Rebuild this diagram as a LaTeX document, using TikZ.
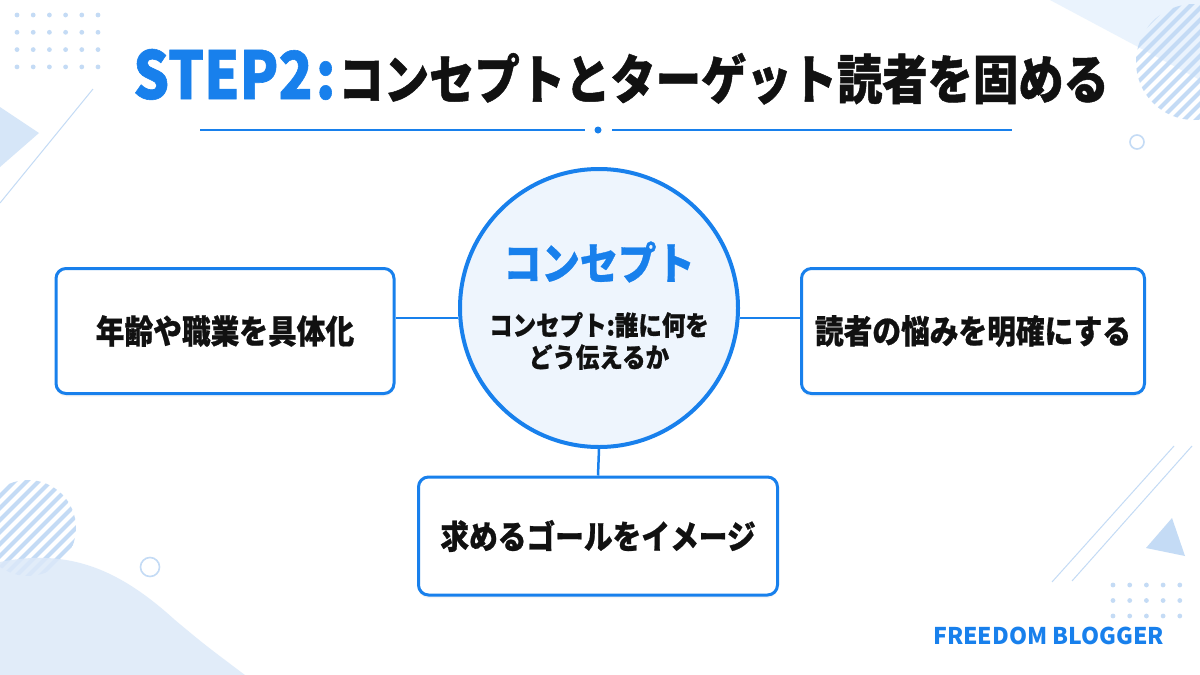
\documentclass[tikz,border=0pt]{standalone}
\usepackage{fontspec}
\usetikzlibrary{positioning, shadows}
\newfontfamily\jpfont{Noto Sans CJK JP}[FakeStretch=0.87, BoldFeatures={FakeBold=0.7}]
\newfontfamily\titlefont{Noto Sans CJK JP}[FakeStretch=0.855, BoldFeatures={FakeBold=0.9}]
\newfontfamily\brandfont{Noto Sans CJK JP}
\definecolor{mainblue}{HTML}{1880EC}
\definecolor{decoblue}{HTML}{C4DBF5}
\definecolor{palefill}{HTML}{EEF5FD}
\definecolor{blobfill}{HTML}{DCE9F9}
\definecolor{cornerfill}{HTML}{EAF3FD}
\definecolor{inktext}{HTML}{111111}

\begin{document}
\begin{tikzpicture}[x=1pt, y=-1pt,
  topicbox/.style={draw=mainblue, line width=3pt, rounded corners=10pt, fill=white,
    minimum width=338pt, minimum height=125pt, inner sep=0pt, text=inktext,
    font=\jpfont\bfseries\fontsize{33}{40}\selectfont,
    drop shadow={shadow xshift=0pt, shadow yshift=-3pt, opacity=0.08}},
  link/.style={mainblue, line width=2.5pt},
  dot/.style={fill=decoblue, draw=none},
  hatch/.style={decoblue, line width=4pt},
  ring/.style={draw=decoblue, line width=1.6pt}]
  % Background
  \useasboundingbox (0,0) rectangle (1200,675);
  \fill[white] (0,0) rectangle (1200,675);
  \fill[cornerfill] (1050,0) -- (1200,0) -- (1200,80) -- cycle;
  \begin{scope}
    \clip (1194,62) circle (58pt);
    \foreach \k in {-12,...,12}
      \draw[hatch] (1194+12*\k-70,132) -- (1194+12*\k+70,-8);
  \end{scope}
  \draw[ring] (1137,142) circle (7pt);
  \foreach \i in {0,...,5}
    \foreach \j in {0,...,3}
      \fill[dot] (17+16.2*\i,15+17.3*\j) circle (2.4pt);
  \fill[decoblue!70] (0,107) -- (39,133) -- (0,167) -- cycle;
  \draw[decoblue, line width=1pt] (93,89) -- (0,203);
  \begin{scope}
    \clip (28,528) circle (48pt);
    \foreach \k in {-12,...,12}
      \draw[hatch] (28+12*\k-70,598) -- (28+12*\k+70,458);
  \end{scope}
  \fill[blobfill, fill opacity=0.85] (0,562) .. controls (70,548) and (120,570) .. (175,620)
    .. controls (205,645) .. (245,675) -- (0,675) -- cycle;
  \draw[ring] (150,567) circle (9.5pt);
  \draw[decoblue, line width=1pt] (1174,446) -- (1052,582);
  \draw[decoblue, line width=1pt] (1192,446) -- (1072,581);
  \fill[decoblue] (1172,518) -- (1146,548) -- (1185,556) -- cycle;
  \foreach \i in {0,...,4}
    \foreach \j in {0,...,2}
      \fill[dot] (1113+16.7*\i,585+15.5*\j) circle (2.4pt);
  % Title
  \node[anchor=base west, inner sep=0pt, text=inktext] (title) at (133,99)
    {\titlefont\bfseries{\color{mainblue}\fontsize{66}{72}\selectfont STEP2\hspace{3pt}:}\hspace{3pt}{\fontsize{53}{60}\selectfont コンセプトとターゲット読者を固める}};
  \draw[mainblue, line width=1.5pt] (200,130) -- (585,130);
  \fill[mainblue] (598,130) circle (3.5pt);
  \draw[mainblue, line width=1.5pt] (612,130) -- (1012,130);
  % Concept
  \node[circle, draw=mainblue, line width=4pt, fill=palefill, minimum size=278pt, inner sep=0pt] (concept) at (599,308) {};
  \node[inner sep=0pt, text=mainblue, font=\jpfont\bfseries\fontsize{44}{50}\selectfont] (ctitle) at (599,262) {コンセプト};
  \node[inner sep=0pt, text=inktext, align=center, font=\jpfont\bfseries\fontsize{27}{32}\selectfont] (cdesc) at (599,341) {コンセプト:誰に何を\\どう伝えるか};
  % Topics
  \node[topicbox] (age) at (225,331) {年齢や職業を具体化};
  \node[topicbox, minimum width=343pt] (pain) at (973,331) {読者の悩みを明確にする};
  \node[topicbox, minimum width=359pt, minimum height=118pt] (goal) at (598,536) {求めるゴールをイメージ};
  \draw[link] (concept.184) -- (concept.184 -| age.east);
  \draw[link] (concept.356) -- (concept.356 -| pain.west);
  \draw[link] (concept.south) -- (goal.north);
  % Brand
  \node[anchor=base west, inner sep=0pt, text=mainblue, font=\brandfont\bfseries\fontsize{23}{28}\selectfont] (brand) at (933,644) {FREEDOM BLOGGER};
\end{tikzpicture}
\end{document}
